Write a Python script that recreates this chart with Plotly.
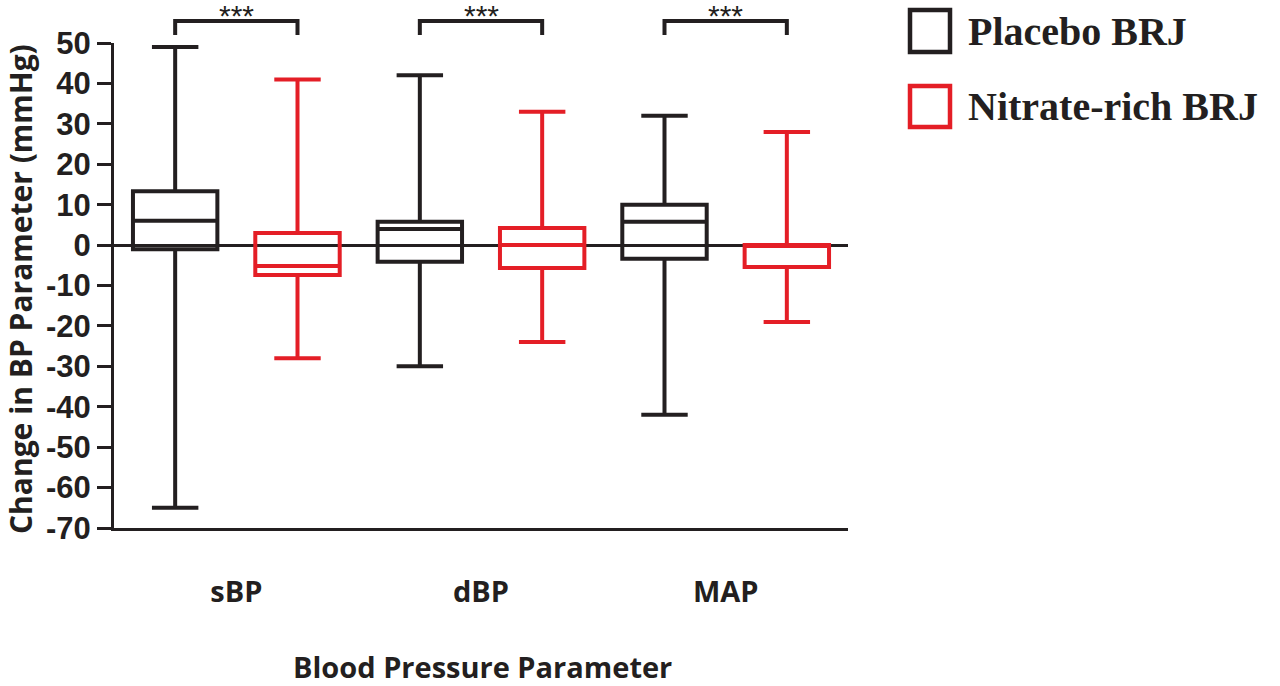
import plotly.graph_objects as go

# ---- data ----
categories = ["sBP", "dBP", "MAP"]
placebo_max = [49, 42, 32]
placebo_q3 = [13.3, 5.8, 10]
placebo_median = [6, 4, 5.8]
placebo_q1 = [-1, -4.1, -3.4]
placebo_min = [-65, -30, -42]

nitrate_max = [41, 33, 28]
nitrate_q3 = [3, 4.2, 0]
nitrate_median = [-5.2, 0, 0]
nitrate_q1 = [-7.4, -5.7, -5.4]
nitrate_min = [-28, -24, -19]

series_names = ["Placebo BRJ", "Nitrate-rich BRJ"]
significance = ["***", "***", "***"]
y_ticks = list(range(-70, 51, 10))

BLACK = "#231f20"
RED = "#e41e26"

W, H = 1280, 686
L, T = 114, 43
RIGHT_EDGE, BOTTOM_EDGE = 848, 528
R = W - RIGHT_EDGE
B = H - BOTTOM_EDGE
PW = RIGHT_EDGE - L
PH = BOTTOM_EDGE - T


def px_x(sx):
    return (sx - L) / PW


def px_y(sy):
    return 1 - (sy - T) / PH


fig = go.Figure()
for name, col, q1, med, q3, lo, hi in [
    (series_names[0], BLACK, placebo_q1, placebo_median, placebo_q3, placebo_min, placebo_max),
    (series_names[1], RED, nitrate_q1, nitrate_median, nitrate_q3, nitrate_min, nitrate_max),
]:
    fig.add_trace(go.Box(
        x=categories, q1=q1, median=med, q3=q3, lowerfence=lo, upperfence=hi,
        name=name, offsetgroup=name, boxpoints=False,
        line=dict(color=col, width=4), fillcolor="rgba(0,0,0,0)",
        whiskerwidth=0.55, showlegend=False, hoverinfo="skip",
    ))

shapes = []
annotations = []
# significance brackets
for i, s in enumerate(significance):
    x0 = (i - 0.25 + 0.5) / 3
    x1 = (i + 0.25 + 0.5) / 3
    ytop = px_y(21)
    yleg = px_y(35)
    shapes.append(dict(type="path", xref="paper", yref="paper",
                       path=f"M {x0} {yleg} L {x0} {ytop} L {x1} {ytop} L {x1} {yleg}",
                       line=dict(color=BLACK, width=4)))
    annotations.append(dict(text=s, xref="paper", yref="paper", x=(i + 0.5) / 3, y=px_y(2),
                            showarrow=False, xanchor="center", yanchor="top",
                            height=22, valign="middle",
                            font=dict(family="Liberation Sans", size=30, color=BLACK)))

# custom legend
for (name, col, top, bot, ty) in [(series_names[0], BLACK, 10, 52, 31), (series_names[1], RED, 86, 127, 107)]:
    shapes.append(dict(type="rect", xref="paper", yref="paper",
                       x0=px_x(910), x1=px_x(950), y0=px_y(bot), y1=px_y(top),
                       line=dict(color=col, width=4.5)))
    annotations.append(dict(text=name, xref="paper", yref="paper", x=px_x(966), y=px_y(ty),
                            showarrow=False, xanchor="left", yanchor="middle",
                            font=dict(family="Liberation Serif", size=40, color=BLACK, weight="bold")))

# axis titles
annotations.append(dict(text="Blood Pressure Parameter", xref="paper", yref="paper",
                        x=px_x(482), y=px_y(666), showarrow=False, xanchor="center", yanchor="middle",
                        font=dict(family="Open Sans", size=29, color=BLACK, weight="bold")))
annotations.append(dict(text="Change in BP Parameter (mmHg)", xref="paper", yref="paper",
                        x=px_x(20), y=px_y(289), showarrow=False, xanchor="center", yanchor="middle",
                        textangle=-90,
                        font=dict(family="Open Sans", size=30, color=BLACK, weight="bold")))

fig.update_layout(
    width=W, height=H,
    margin=dict(l=L, r=R, t=T, b=B),
    paper_bgcolor="white", plot_bgcolor="white",
    boxmode="group", boxgap=0.0, boxgroupgap=0.31,
    shapes=shapes, annotations=annotations,
    showlegend=False,
)
fig.update_yaxes(
    range=[-70, 50], tickvals=y_ticks, ticktext=[str(v) for v in y_ticks],
    showgrid=False, zeroline=True, zerolinecolor=BLACK, zerolinewidth=3,
    showline=True, linecolor=BLACK, linewidth=3,
    ticks="outside", ticklen=14, tickwidth=3, tickcolor=BLACK,
    tickfont=dict(family="Liberation Sans", size=31, color=BLACK, weight="bold"),
)
fig.update_xaxes(
    categoryorder="array", categoryarray=categories, range=[-0.5, 2.5],
    showgrid=False, zeroline=False, showline=True, linecolor=BLACK, linewidth=3,
    ticks="", ticklabelstandoff=36,
    tickfont=dict(family="Open Sans", size=29, color=BLACK, weight="bold"),
)

fig.write_html("out.html", config={"displayModeBar": False},
               post_script="document.body.style.margin='0';document.body.style.overflow='hidden';")
